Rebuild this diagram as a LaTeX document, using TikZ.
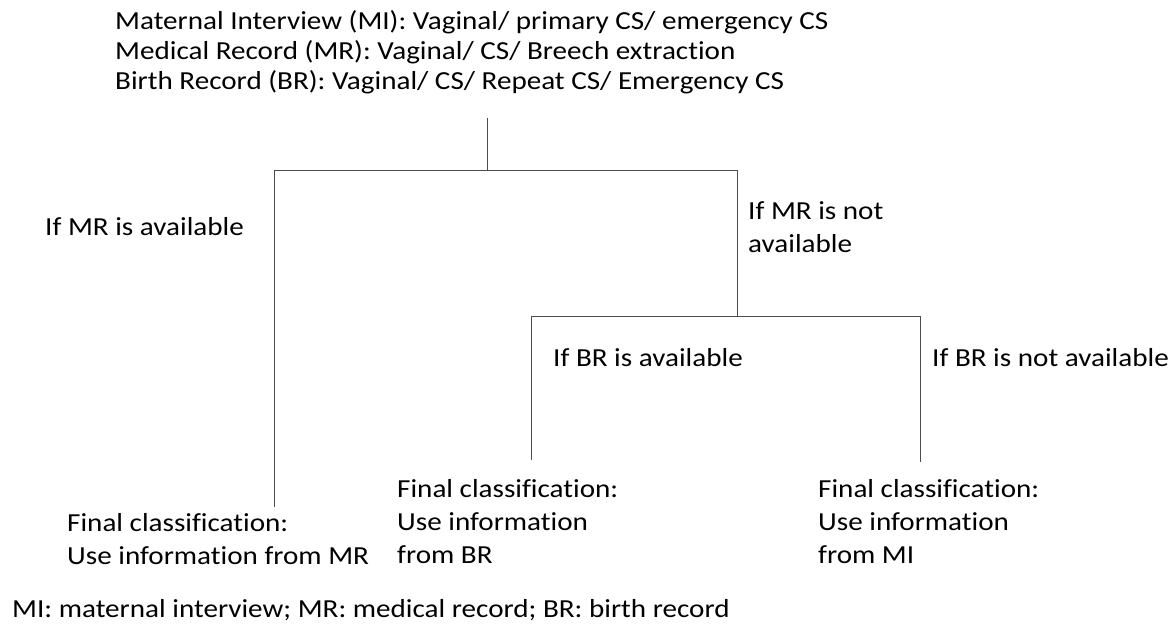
\documentclass[tikz,border=0pt]{standalone}
\usepackage{fontspec}
\setmainfont{Carlito}[FakeStretch=1.12,Ligatures=NoCommon]
\begin{document}
\begin{tikzpicture}[x=1pt,y=-1pt,
  lbl/.style={anchor=base west,inner sep=0pt,align=left,font=\fontsize{26}{33}\selectfont},
  tight/.style={font=\fontsize{26}{30}\selectfont},
  branch/.style={draw=black!70,line width=0.9pt}]
\useasboundingbox (0,0) rectangle (1176,632);

% header and footer text (base anchor sits on the last line)
\node[lbl,tight] (hdr) at (115,89) {Maternal Interview (MI): Vaginal/ primary CS/ emergency CS\\
Medical Record (MR): Vaginal/ CS/ Breech extraction\\
Birth Record (BR): Vaginal/ CS/ Repeat CS/ Emergency CS};
\node[lbl] (foot) at (12,617) {MI: maternal interview; MR: medical record; BR: birth record};

% branch labels
\node[lbl] (mryes) at (45,235) {If MR is available};
\node[lbl] (mrno) at (748,252) {If MR is not\\available};
\node[lbl] (bryes) at (553,366) {If BR is available};
\node[lbl] (brno) at (932,366) {If BR is not available};

% outcomes
\node[lbl] (outmr) at (67,564) {Final classification:\\Use information from MR};
\node[lbl] (outbr) at (397,563) {Final classification:\\Use information\\from BR};
\node[lbl] (outmi) at (818,563) {Final classification:\\Use information\\from MI};

% tree junctions
\coordinate (root) at (487,118);
\coordinate (j1) at (487,170);
\coordinate (l1) at (274,170);
\coordinate (r1) at (737,170);
\coordinate (j2) at (737,316);
\coordinate (l2) at (531,316);
\coordinate (r2) at (920,316);
\coordinate (endmr) at (274,507);
\coordinate (endbr) at (531,460);
\coordinate (endmi) at (920,462);

\draw[branch] (root) -- (j1);
\draw[branch] (endmr) -- (l1) -- (r1) -- (j2);
\draw[branch] (endbr) -- (l2) -- (r2) -- (endmi);
\end{tikzpicture}
\end{document}
